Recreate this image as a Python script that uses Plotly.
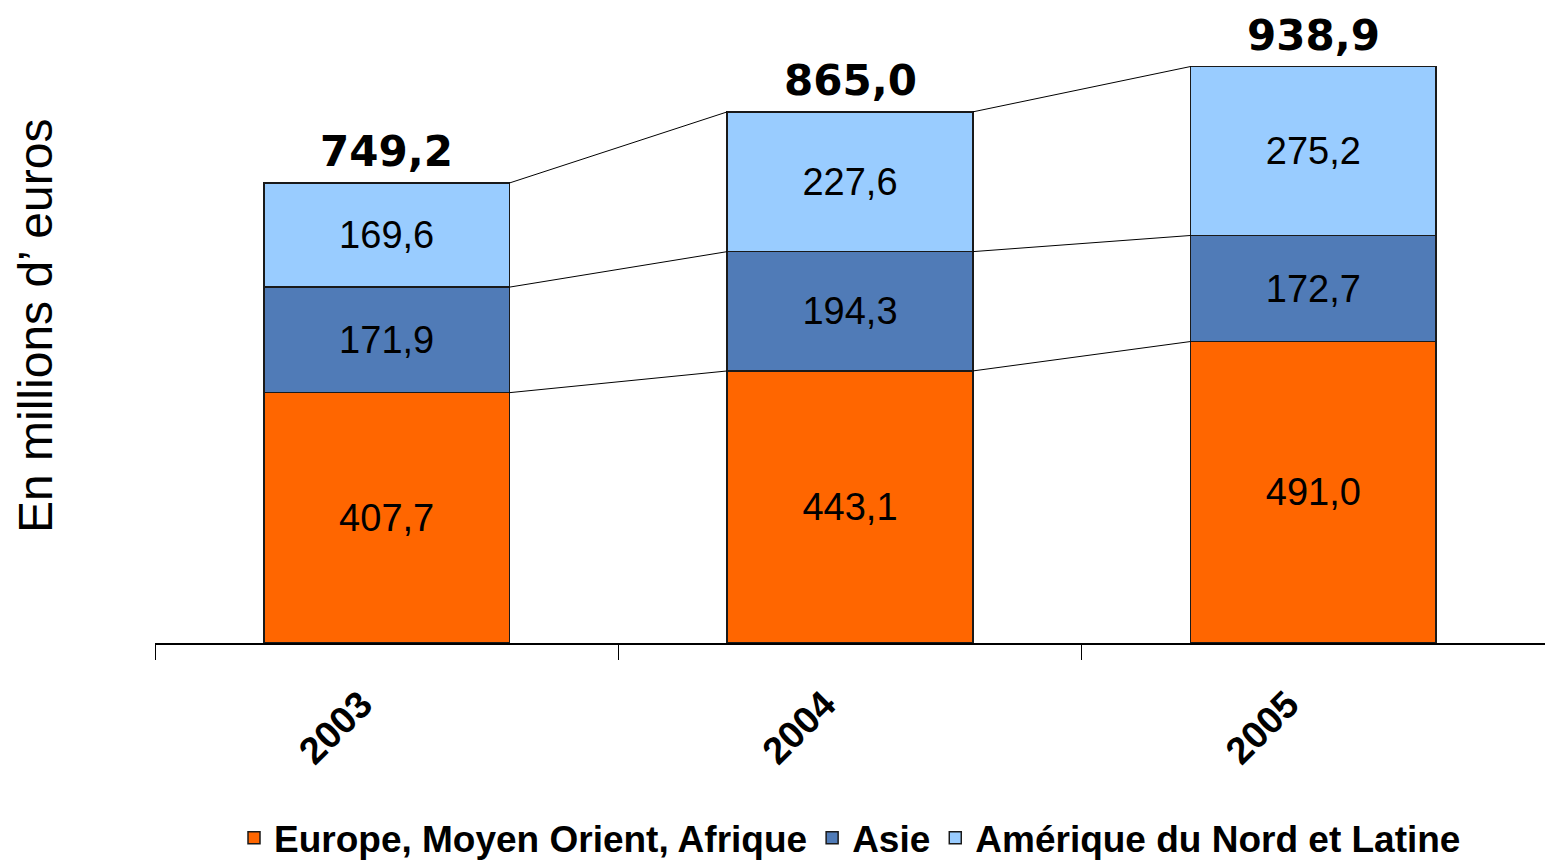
import plotly.graph_objects as go

years = ["2003", "2004", "2005"]
emea = [407.7, 443.1, 491.0]
asie = [171.9, 194.3, 172.7]
amerique = [169.6, 227.6, 275.2]
series_names = ["Europe, Moyen Orient, Afrique", "Asie", "Amérique du Nord et Latine"]
colors = ["#FF6600", "#507BB7", "#99CCFF"]
y_title = "En millions d\u2019 euros"


def fr(v):
    return f"{v:.1f}".replace(".", ",")


x = list(range(len(years)))
BAR_W = 0.53
LABEL_OFFSET = -0.055
series = [emea, asie, amerique]

fig = go.Figure()

# series lines connecting bar segments
cum = []
run = [0.0] * len(years)
for vals in series:
    run = [r + v for r, v in zip(run, vals)]
    cum.append(list(run))
lx, ly = [], []
for level in cum:
    for i in range(len(years) - 1):
        lx += [x[i] + BAR_W / 2, x[i + 1] - BAR_W / 2, None]
        ly += [level[i], level[i + 1], None]
fig.add_trace(go.Scatter(x=lx, y=ly, mode="lines", line=dict(color="black", width=1),
                         showlegend=False, hoverinfo="skip"))

for name, vals, col in zip(series_names, series, colors):
    fig.add_trace(go.Bar(
        x=x, y=vals, name=name, width=BAR_W,
        marker=dict(color=col, line=dict(color="#1a1a1a", width=1.5)),
        text=[fr(v) for v in vals], textposition="inside", insidetextanchor="middle",
        textangle=0, constraintext="none",
        textfont=dict(family="Liberation Sans", size=38, color="black"),
        hoverinfo="skip",
    ))

totals = cum[-1]
for xi, t in zip(x, totals):
    fig.add_annotation(x=xi, y=t, text=fr(t), showarrow=False, yanchor="bottom", yshift=5,
                       font=dict(family="DejaVu Sans", size=42, color="black", weight="bold"))

fig.add_annotation(xref="paper", yref="paper", x=(35 - 155) / 1390, y=(643 - 326) / 614,
                   xanchor="center", yanchor="middle", text=y_title, textangle=-90,
                   showarrow=False,
                   font=dict(family="Liberation Sans", size=48, color="black"))

fig.update_layout(
    barmode="stack",
    width=1545, height=861,
    margin=dict(l=155, r=0, t=29, b=218, autoexpand=False),
    plot_bgcolor="white", paper_bgcolor="white",
    showlegend=True,
    legend=dict(orientation="h", x=0.5, xanchor="center", y=-0.318, yanchor="middle",
                font=dict(family="Liberation Sans", size=37, color="black", weight="bold"),
                itemclick=False, traceorder="normal"),
    xaxis=dict(range=[-0.5, 2.5], tickmode="array", tickvals=[xi + LABEL_OFFSET for xi in x],
               ticktext=years, ticks="",
               tickangle=-45, ticklabelstandoff=22,
               tickfont=dict(family="Liberation Sans", size=38, color="black", weight="bold"),
               showline=True, linecolor="black", linewidth=1.5, showgrid=False, zeroline=False,
               minor=dict(tickmode="array", tickvals=[-0.5, 0.5, 1.5, 2.5], ticks="outside",
                          ticklen=15, tickwidth=1, tickcolor="black", showgrid=False)),
    yaxis=dict(range=[0, 1000], showticklabels=False, showgrid=False, zeroline=False,
               showline=False, ticks=""),
)

fig.write_html("out.html", config={"displayModeBar": False},
               post_script="document.body.style.margin='0';document.body.style.overflow='hidden';")
